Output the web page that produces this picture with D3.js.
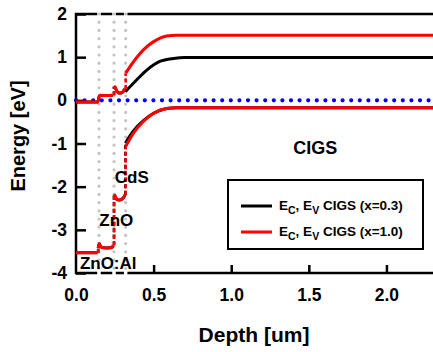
<!DOCTYPE html>
<html><head><meta charset="utf-8">
<script src="https://cdn.jsdelivr.net/npm/d3@7"></script>
<style>
body{margin:0;background:#fff;}
text{font-family:"Liberation Sans",Arial,sans-serif;font-weight:bold;fill:#000;}
</style></head>
<body><svg id="c" width="433" height="352"></svg>
<script>
// ---- data ----
const xTicks = [0, 0.5, 1.0, 1.5, 2.0];
const yTicks = [-4, -3, -2, -1, 0, 1, 2];
const layerBounds = [0.148, 0.245, 0.32];
const fermiLevel = 0;
const layerLabels = [
  {name: "ZnO:Al", x: 0.025, y: -3.9, size: 17},
  {name: "ZnO", x: 0.15, y: -2.9, size: 17},
  {name: "CdS", x: 0.25, y: -1.92, size: 17},
  {name: "CIGS", x: 1.4, y: -1.25, size: 18}
];
// buffer/window layers (shared by both absorbers); segments split at band jumps
const bufferEc = [
  [[0,-0.04],[0.138,-0.04],[0.144,0.0],[0.149,0.08],[0.156,0.12],[0.165,0.11],[0.2,0.11],[0.236,0.12]],
  [[0.245,0.32],[0.252,0.3],[0.262,0.22],[0.275,0.17],[0.29,0.17],[0.303,0.2],[0.314,0.26]]
];
const bufferEv = [
  [[0,-3.53],[0.138,-3.53]],
  [[0.143,-3.42],[0.149,-3.32],[0.157,-3.37],[0.168,-3.41],[0.2,-3.42],[0.232,-3.41],[0.24,-3.36]],
  [[0.245,-2.18],[0.252,-2.22],[0.262,-2.29],[0.278,-2.31],[0.295,-2.29],[0.307,-2.25],[0.316,-2.19]]
];
const cigsEc03 = [[0.318,0.2],[0.39,0.47],[0.456,0.7],[0.54,0.9],[0.63,0.97],[0.7,0.99],[0.9,0.99],[2.3,0.99]];
const cigsEv03 = [[0.318,-0.99],[0.37,-0.71],[0.434,-0.47],[0.5,-0.3],[0.584,-0.19],[0.65,-0.17],[0.9,-0.17],[2.3,-0.17]];
const cigsEc10 = [[0.32,0.63],[0.38,0.94],[0.434,1.17],[0.5,1.36],[0.584,1.49],[0.65,1.51],[0.9,1.51],[2.3,1.51]];
const cigsEv10 = [[0.32,-1.07],[0.37,-0.76],[0.434,-0.49],[0.5,-0.3],[0.584,-0.19],[0.65,-0.17],[0.9,-0.17],[2.3,-0.17]];
const seriesNames = ["E|C|, E|V| CIGS (x=0.3)", "E|C|, E|V| CIGS (x=1.0)"];
const seriesColors = ["#000000", "#ff0000"];

// ---- chart ----
const svg = d3.select("#c");
const x = d3.scaleLinear().domain([0, 2.3]).range([76, 433]);
const y = d3.scaleLinear().domain([-4, 2]).range([273, 14]);

// frame
const frame = svg.append("g").attr("stroke", "#000").attr("stroke-width", 2.5).attr("fill", "none");
frame.append("path").attr("d", `M${x(2.3)+2},${y(2)}H${x(0)}V${y(-4)}H${x(2.3)+2}`);

// axes
const fmtX = d => d.toFixed(1);
const fmtY = d => String(d);
const gx = svg.append("g").attr("transform", `translate(0,${y(-4)})`)
  .call(d3.axisBottom(x).tickValues(xTicks).tickSize(-8).tickPadding(16).tickFormat(fmtX));
const gy = svg.append("g").attr("transform", `translate(${x(0)},0)`)
  .call(d3.axisLeft(y).tickValues(yTicks).tickSize(-10).tickPadding(9).tickFormat(fmtY));
[gx, gy].forEach(g => {
  g.select(".domain").remove();
  g.selectAll(".tick line").attr("stroke", "#000").attr("stroke-width", 2.5);
  g.selectAll(".tick text").attr("font-size", 17.5).attr("font-family", null).style("font-family", "'Liberation Sans',Arial,sans-serif");
});
gx.selectAll(".tick").filter(d => d === 0).select("line").remove();

// layer boundaries
svg.append("g").selectAll("line").data(layerBounds).join("line")
  .attr("x1", d => x(d)).attr("x2", d => x(d)).attr("y1", y(2) - 2).attr("y2", y(-4) + 2)
  .attr("stroke", "#fff").attr("stroke-width", 3.5);
svg.append("g").selectAll("line").data(layerBounds).join("line")
  .attr("x1", d => x(d)).attr("x2", d => x(d)).attr("y1", y(2)).attr("y2", y(-4))
  .attr("stroke", "#c4c4c4").attr("stroke-width", 3.2)
  .attr("stroke-linecap", "round").attr("stroke-dasharray", "0,8.2");

// Fermi level
svg.append("line").attr("x1", x(0)).attr("x2", x(2.3)).attr("y1", y(fermiLevel)).attr("y2", y(fermiLevel))
  .attr("stroke", "#0000ff").attr("stroke-width", 4.2)
  .attr("stroke-linecap", "round").attr("stroke-dasharray", "0,8.6");

// bands
const line = d3.line().x(d => x(d[0])).y(d => y(d[1])).curve(d3.curveMonotoneX);
function drawBand(segments, color) {
  const g = svg.append("g").attr("fill", "none").attr("stroke", color).attr("stroke-width", 3);
  segments.forEach((seg, i) => {
    g.append("path").attr("d", line(seg));
    if (i < segments.length - 1) {
      const a = seg[seg.length - 1], b = segments[i + 1][0];
      g.append("line").attr("x1", x(b[0])).attr("x2", x(b[0])).attr("y1", y(a[1])).attr("y2", y(b[1]))
        .attr("stroke-dasharray", "4,2.5").attr("stroke-width", 2.6);
    }
  });
}
drawBand([...bufferEc, cigsEc03], seriesColors[0]);
drawBand([...bufferEv, cigsEv03], seriesColors[0]);
drawBand([...bufferEc, cigsEc10], seriesColors[1]);
drawBand([...bufferEv, cigsEv10], seriesColors[1]);

// layer labels
svg.append("g").selectAll("text").data(layerLabels).join("text")
  .attr("x", d => x(d.x)).attr("y", d => y(d.y)).attr("font-size", d => d.size)
  .text(d => d.name);

// axis titles
svg.append("text").attr("x", 254).attr("y", 342).attr("text-anchor", "middle").attr("font-size", 21).text("Depth [um]");
svg.append("text").attr("transform", "translate(25,136) rotate(-90)").attr("text-anchor", "middle").attr("font-size", 20).text("Energy [eV]");

// legend
const lg = svg.append("g");
lg.append("rect").attr("x", 228).attr("y", 180).attr("width", 195).attr("height", 69)
  .attr("fill", "#fff").attr("stroke", "#000").attr("stroke-width", 2);
seriesNames.forEach((name, i) => {
  const yy = 206 + i * 26;
  lg.append("line").attr("x1", 241).attr("x2", 272).attr("y1", yy).attr("y2", yy)
    .attr("stroke", seriesColors[i]).attr("stroke-width", 3);
  const t = lg.append("text").attr("x", 279).attr("y", yy + 4).attr("font-size", 13.5);
  name.split("|").forEach((part, j) => {
    const ts = t.append("tspan").text(part);
    if (j % 2 === 1) ts.attr("font-size", 10.5).attr("dy", 4);
    else if (j > 0) ts.attr("dy", -4);
  });
});
</script></body></html>
